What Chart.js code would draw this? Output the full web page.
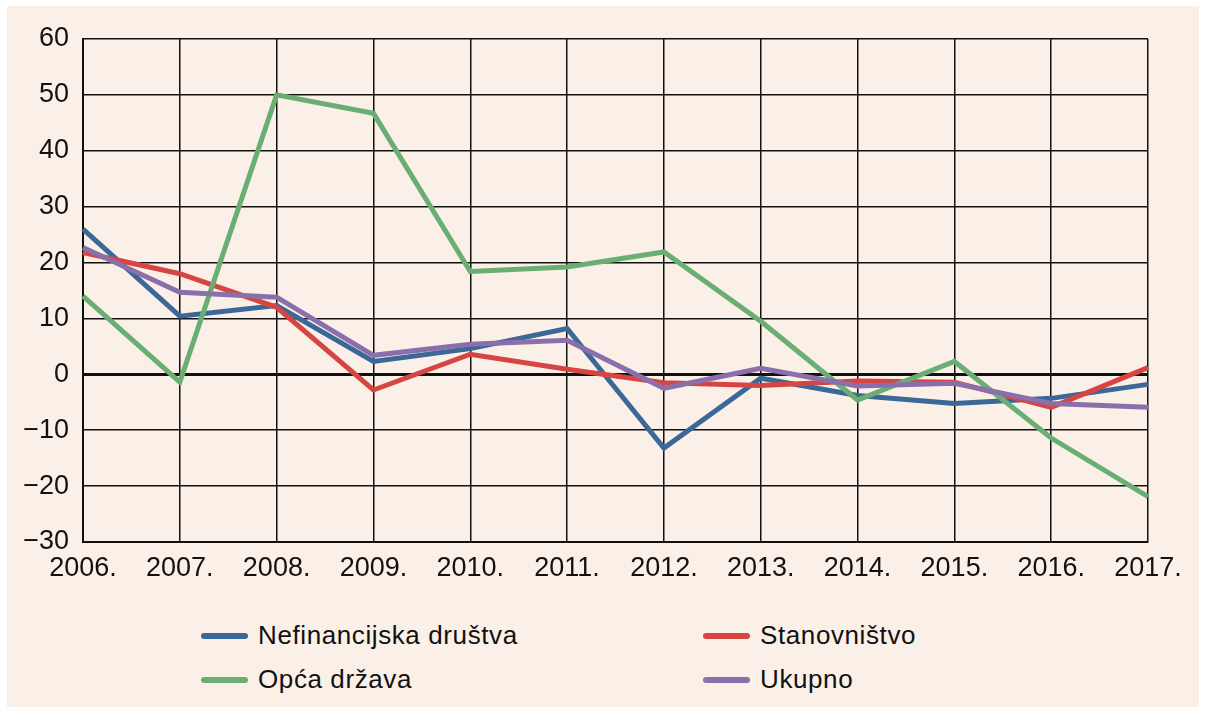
<!DOCTYPE html>
<html>
<head>
<meta charset="utf-8">
<script src="https://cdn.jsdelivr.net/npm/chart.js@4/dist/chart.umd.min.js"></script>
<style>
  body { margin: 0; background: #fff; }
  #panel {
    position: absolute; left: 7px; top: 6px; width: 1192px; height: 701px;
    background: #fbf0e8;
    font-family: "Liberation Sans", Arial, sans-serif;
  }
  #wrap { position: absolute; left: 0; top: 0; width: 1192px; height: 590px; }
  .leg { position: absolute; display: flex; align-items: center; font-size: 26px; letter-spacing: 0.6px; color: #111; }
  .leg span.ln { display: inline-block; width: 47px; height: 6px; border-radius: 3px; margin-right: 10px; }
</style>
</head>
<body>
<div id="panel">
  <div id="wrap"><canvas id="grafikon"></canvas></div>
  <div id="legenda"></div>
</div>
<script>
// Podaci
const godine = ['2006.', '2007.', '2008.', '2009.', '2010.', '2011.', '2012.', '2013.', '2014.', '2015.', '2016.', '2017.'];
const nefinancijska = [26.0, 10.4, 12.3, 2.3, 4.6, 8.2, -13.2, -0.7, -3.8, -5.2, -4.3, -1.8];
const stanovnistvo = [21.8, 18.0, 12.0, -2.8, 3.6, 0.9, -1.5, -2.0, -1.2, -1.4, -5.9, 1.2];
const opcaDrzava = [14.0, -1.4, 50.0, 46.7, 18.4, 19.2, 21.9, 9.5, -4.6, 2.3, -11.4, -21.9];
const ukupno = [22.7, 14.7, 13.8, 3.4, 5.4, 6.1, -2.5, 1.1, -2.1, -1.6, -5.2, -5.9];
const yTicks = [-30, -20, -10, 0, 10, 20, 30, 40, 50, 60];

const serije = [
    { label: 'Nefinancijska društva', data: nefinancijska, color: '#3b6896', order: 3 },
    { label: 'Stanovništvo', data: stanovnistvo, color: '#d64541', order: 2 },
    { label: 'Opća država', data: opcaDrzava, color: '#6bae74', order: 1 },
    { label: 'Ukupno', data: ukupno, color: '#8b6faa', order: 0 },
];

const ctx = document.getElementById('grafikon').getContext('2d');
new Chart(ctx, {
    type: 'line',
    data: {
        labels: godine,
        datasets: serije.map(s => ({
            label: s.label,
            data: s.data,
            borderColor: s.color,
            borderWidth: 5,
            pointRadius: 0,
            tension: 0,
            order: s.order,
        })),
    },
    options: {
        responsive: true,
        maintainAspectRatio: false,
        animation: false,
        layout: { padding: { top: 33, right: 51, left: 0, bottom: 0 } },
        plugins: {
            legend: { display: false },
            tooltip: { enabled: false },
        },
        scales: {
            x: {
                afterFit: (scale) => { scale.height = 54; },
                grid: { color: '#111', lineWidth: 1.5, drawTicks: false },
                border: { color: '#111', width: 2 },
                ticks: {
                    color: '#111', padding: 10, maxRotation: 0, autoSkip: false,
                    font: { family: '"Liberation Sans", Arial, sans-serif', size: 27 },
                },
            },
            y: {
                min: yTicks[0],
                max: yTicks[yTicks.length - 1],
                afterFit: (scale) => { scale.width = 76; },
                afterBuildTicks: (scale) => { scale.ticks = yTicks.map(v => ({ value: v })); },
                grid: {
                    color: '#111',
                    lineWidth: (c) => (c.tick && c.tick.value === 0 ? 3 : 1.5),
                    drawTicks: false,
                },
                border: { color: '#111', width: 2 },
                ticks: {
                    color: '#111', padding: 14,
                    font: { family: '"Liberation Sans", Arial, sans-serif', size: 27 },
                    callback: (v) => String(v).replace('-', '\u2212'),
                },
            },
        },
    },
});

// Legenda (2 stupca)
const leg = document.getElementById('legenda');
serije.forEach((s, i) => {
    const el = document.createElement('div');
    el.className = 'leg';
    el.style.left = (i % 2 === 0 ? 194 : 696) + 'px';
    el.style.top = (i < 2 ? 614 : 658) + 'px';
    el.innerHTML = '<span class="ln" style="background:' + s.color + '"></span>' + s.label;
    leg.appendChild(el);
});
</script>
</body>
</html>
